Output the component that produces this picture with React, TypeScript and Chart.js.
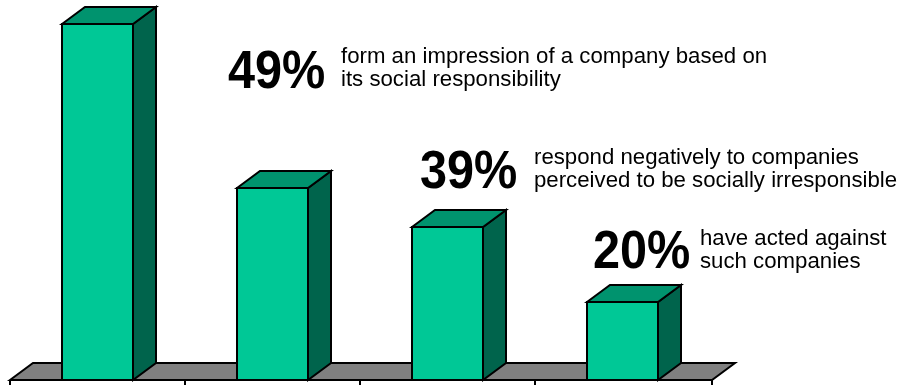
import React, { useEffect, useRef } from 'react';
import { Chart, registerables } from 'chart.js';

Chart.register(...registerables);

// ---- Data ----
const categories = ['All respondents', 'Form impression', 'Respond negatively', 'Have acted against'];
const values = [91, 49, 39, 20];
const descriptions: string[][] = [
  [],
  ['form an impression of a company based on', 'its social responsibility'],
  ['respond negatively to companies', 'perceived to be socially irresponsible'],
  ['have acted against', 'such companies'],
];

// ---- Styles ----
const FRONT = '#00C896';
const TOP = '#00936E';
const SIDE = '#00644C';
const FLOOR = '#808080';
const DEPTH_X = 23;
const DEPTH_Y = 17;
const FONT = "Arial, 'Liberation Sans', Helvetica, sans-serif";

// annotation layout: [percentX, percentBaseline, textX, line1Baseline, lineGap]
const annotationLayout: Record<number, [number, number, number, number, number]> = {
  1: [228, 88, 341, 63, 23],
  2: [420, 188, 534, 164, 23],
  3: [593, 268, 700, 245, 23],
};

const box3dPlugin = {
  id: 'box3d',
  afterDatasetsDraw(chart: any) {
    const ctx: CanvasRenderingContext2D = chart.ctx;
    const xs = chart.scales.x;
    const ys = chart.scales.y;
    const base = Math.round(ys.getPixelForValue(0));
    const left = xs.left;
    const right = xs.right;
    ctx.save();
    ctx.lineWidth = 2;
    ctx.strokeStyle = '#000';
    ctx.lineJoin = 'miter';

    // floor
    ctx.fillStyle = FLOOR;
    ctx.beginPath();
    ctx.moveTo(left, base);
    ctx.lineTo(left + DEPTH_X, base - DEPTH_Y);
    ctx.lineTo(right + DEPTH_X + 2, base - DEPTH_Y);
    ctx.lineTo(right + 2, base);
    ctx.closePath();
    ctx.fill();
    ctx.stroke();

    // tick marks at category boundaries
    const n = categories.length;
    ctx.beginPath();
    for (let i = 0; i <= n; i++) {
      const x = Math.round(left + (i * (right - left)) / n) + (i === n ? 2 : 0);
      ctx.moveTo(x, base);
      ctx.lineTo(x, base + 8);
    }
    ctx.stroke();

    // bars
    const meta = chart.getDatasetMeta(0);
    meta.data.forEach((bar: any) => {
      const p = bar.getProps(['x', 'y', 'width'], true);
      const l = Math.round(p.x - p.width / 2);
      const r = Math.round(p.x + p.width / 2);
      const t = Math.round(p.y);
      // side
      ctx.fillStyle = SIDE;
      ctx.beginPath();
      ctx.moveTo(r, t);
      ctx.lineTo(r + DEPTH_X, t - DEPTH_Y);
      ctx.lineTo(r + DEPTH_X, base - DEPTH_Y);
      ctx.lineTo(r, base);
      ctx.closePath();
      ctx.fill();
      ctx.stroke();
      // top
      ctx.fillStyle = TOP;
      ctx.beginPath();
      ctx.moveTo(l, t);
      ctx.lineTo(l + DEPTH_X, t - DEPTH_Y);
      ctx.lineTo(r + DEPTH_X, t - DEPTH_Y);
      ctx.lineTo(r, t);
      ctx.closePath();
      ctx.fill();
      ctx.stroke();
      // front
      ctx.fillStyle = FRONT;
      ctx.beginPath();
      ctx.rect(l, t, r - l, base - t);
      ctx.fill();
      ctx.stroke();
    });
    ctx.restore();
  },
  afterDraw(chart: any) {
    const ctx: CanvasRenderingContext2D = chart.ctx;
    ctx.fillStyle = '#000';
    ctx.textBaseline = 'alphabetic';
    ctx.textAlign = 'left';
    values.forEach((v, i) => {
      const lay = annotationLayout[i];
      if (!lay) return;
      const [px, pb, tx, tb, gap] = lay;
      ctx.save();
      ctx.translate(px, pb);
      ctx.scale(0.9, 1);
      ctx.font = `bold 54px ${FONT}`;
      ctx.fillText(`${v}%`, 0, 0);
      ctx.restore();
      ctx.save();
      ctx.font = `22px ${FONT}`;
      ctx.translate(tx, 0);
      ctx.scale(1.01, 1);
      descriptions[i].forEach((line, j) => ctx.fillText(line, 0, tb + j * gap));
      ctx.restore();
    });
  },
};

export default function App() {
  const canvasRef = useRef<HTMLCanvasElement | null>(null);

  useEffect(() => {
    document.body.style.margin = '0';
    const canvas = canvasRef.current;
    if (!canvas) return;
    const chart = new Chart(canvas, {
      type: 'bar',
      data: {
        labels: categories,
        datasets: [
          {
            data: values,
            backgroundColor: 'rgba(0,0,0,0)',
            borderWidth: 0,
            categoryPercentage: 1,
            barPercentage: 0.405,
          },
        ],
      },
      options: {
        responsive: false,
        maintainAspectRatio: false,
        animation: false,
        devicePixelRatio: 1,
        layout: { padding: { left: 10, right: 193, top: 0, bottom: 5 } },
        plugins: { legend: { display: false }, tooltip: { enabled: false }, title: { display: false } },
        scales: {
          x: { display: false },
          y: { display: false, min: 0, max: 97 },
        },
      },
      plugins: [box3dPlugin],
    });
    return () => chart.destroy();
  }, []);

  return (
    <div style={{ position: 'fixed', left: 0, top: 0, width: 903, height: 385, background: '#fff' }}>
      <canvas ref={canvasRef} width={903} height={385} style={{ display: 'block' }} />
    </div>
  );
}
